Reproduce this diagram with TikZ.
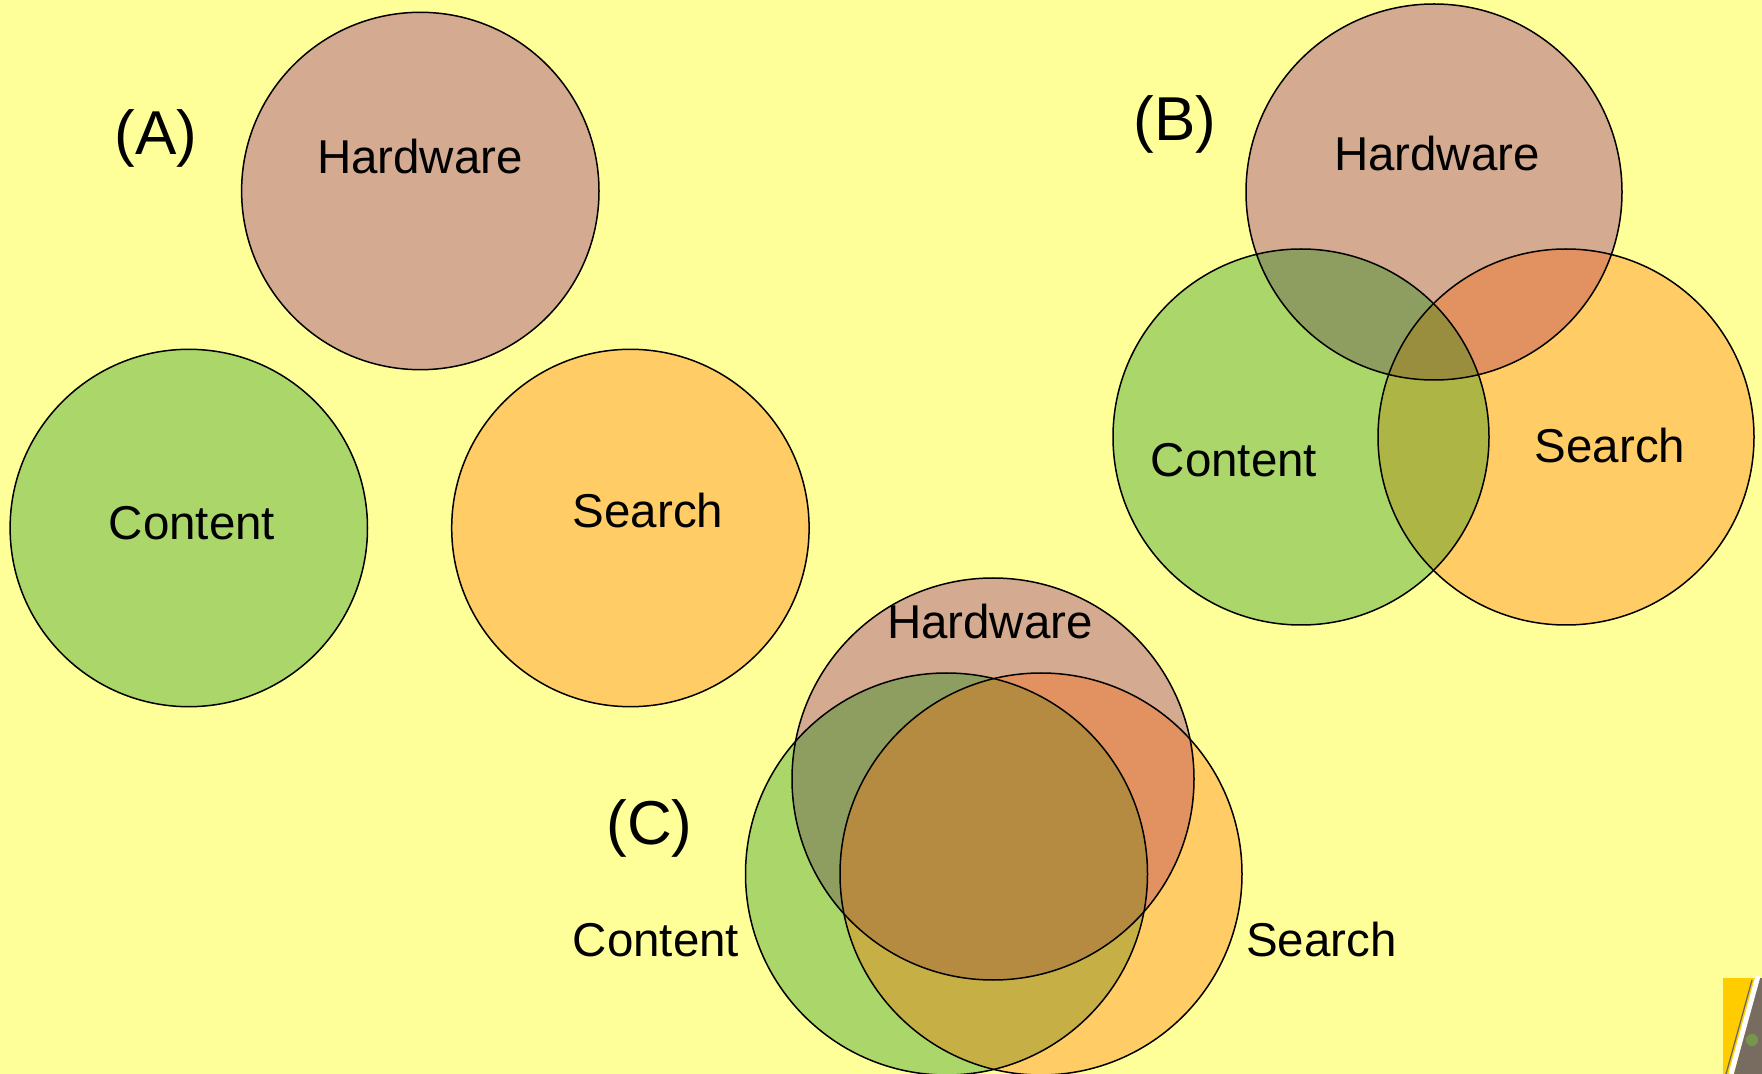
\documentclass[tikz,border=0pt]{standalone}
\usepackage{fontspec}
\setmainfont{Liberation Sans}
\definecolor{bg}{RGB}{255,255,153}
\definecolor{hw}{RGB}{212,170,144}
\definecolor{ct}{RGB}{170,214,106}
\definecolor{sr}{RGB}{255,204,102}
\definecolor{hc}{RGB}{142,158,96}
\definecolor{hs}{RGB}{225,146,96}
\definecolor{cs}{RGB}{173,181,69}
\definecolor{hcs}{RGB}{152,142,62}
\definecolor{csC}{RGB}{198,176,70}
\definecolor{hcsC}{RGB}{180,139,64}
\definecolor{gold}{RGB}{255,204,0}
\definecolor{photo}{RGB}{120,108,96}
\begin{document}
\begin{tikzpicture}[x=0.5pt,y=-0.5pt,
  lbl/.style={font=\fontsize{23.75}{28}\selectfont, anchor=base, inner sep=0pt},
  biglbl/.style={font=\fontsize{31}{36}\selectfont, anchor=base, inner sep=0pt},
  ring/.style={draw=black, line width=0.75pt}]
\fill[bg] (0,0) rectangle (1762,1074);
\useasboundingbox (0,0) rectangle (1762,1074);

% ---------- Panel A ----------
\def\rA{89.35pt}
\coordinate (aH) at (420.3,191);
\coordinate (aC) at (188.8,528);
\coordinate (aS) at (630.4,528);
\fill[hw] (aH) circle[radius=\rA];
\fill[ct] (aC) circle[radius=\rA];
\fill[sr] (aS) circle[radius=\rA];
\draw[ring] (aH) circle[radius=\rA];
\draw[ring] (aC) circle[radius=\rA];
\draw[ring] (aS) circle[radius=\rA];
\node[biglbl] (labA) at (156,155) {(A)};
\node[lbl] (aHt) at (420,173.5) {Hardware};
\node[lbl] (aCt) at (192,540) {Content};
\node[lbl] (aSt) at (648,528) {Search};

% ---------- Panel B ----------
\def\rB{94pt}
\coordinate (bH) at (1434,192);
\coordinate (bC) at (1301,437);
\coordinate (bS) at (1566,437);
\fill[hw] (bH) circle[radius=\rB];
\fill[ct] (bC) circle[radius=\rB];
\fill[sr] (bS) circle[radius=\rB];
\begin{scope}\clip (bH) circle[radius=\rB]; \fill[hc] (bC) circle[radius=\rB];\end{scope}
\begin{scope}\clip (bH) circle[radius=\rB]; \fill[hs] (bS) circle[radius=\rB];\end{scope}
\begin{scope}\clip (bC) circle[radius=\rB]; \fill[cs] (bS) circle[radius=\rB];\end{scope}
\begin{scope}\clip (bH) circle[radius=\rB]; \clip (bC) circle[radius=\rB]; \fill[hcs] (bS) circle[radius=\rB];\end{scope}
\draw[ring] (bH) circle[radius=\rB];
\draw[ring] (bC) circle[radius=\rB];
\draw[ring] (bS) circle[radius=\rB];
\node[biglbl] (labB) at (1175,140.5) {(B)};
\node[lbl] (bHt) at (1437,171) {Hardware};
\node[lbl] (bCt) at (1234,476.5) {Content};
\node[lbl] (bSt) at (1610,463) {Search};

% ---------- Panel C ----------
\def\rC{100.5pt}
\coordinate (cH) at (993,779);
\coordinate (cC) at (946.5,874);
\coordinate (cS) at (1041,874);
\fill[hw] (cH) circle[radius=\rC];
\fill[ct] (cC) circle[radius=\rC];
\fill[sr] (cS) circle[radius=\rC];
\begin{scope}\clip (cH) circle[radius=\rC]; \fill[hc] (cC) circle[radius=\rC];\end{scope}
\begin{scope}\clip (cH) circle[radius=\rC]; \fill[hs] (cS) circle[radius=\rC];\end{scope}
\begin{scope}\clip (cC) circle[radius=\rC]; \fill[csC] (cS) circle[radius=\rC];\end{scope}
\begin{scope}\clip (cH) circle[radius=\rC]; \clip (cC) circle[radius=\rC]; \fill[hcsC] (cS) circle[radius=\rC];\end{scope}
\draw[ring] (cH) circle[radius=\rC];
\draw[ring] (cC) circle[radius=\rC];
\draw[ring] (cS) circle[radius=\rC];
\node[biglbl] (labC) at (649.5,844) {(C)};
\node[lbl] (cHt) at (990,639) {Hardware};
\node[lbl] (cCt) at (656,956) {Content};
\node[lbl] (cSt) at (1321.5,956) {Search};

% ---------- corner thumbnail ----------
\fill[gold] (1723,978) rectangle (1762,1074);
\fill[photo] (1759,978) -- (1762,978) -- (1762,1074) -- (1734,1074) -- cycle;
\fill[ct!70!black] (1752,1040) circle[radius=3pt];
\draw[white, line width=2.5pt] (1758,976) -- (1731,1074);
\draw[black!60, line width=0.6pt] (1752,980) -- (1726,1074);
\end{tikzpicture}
\end{document}
